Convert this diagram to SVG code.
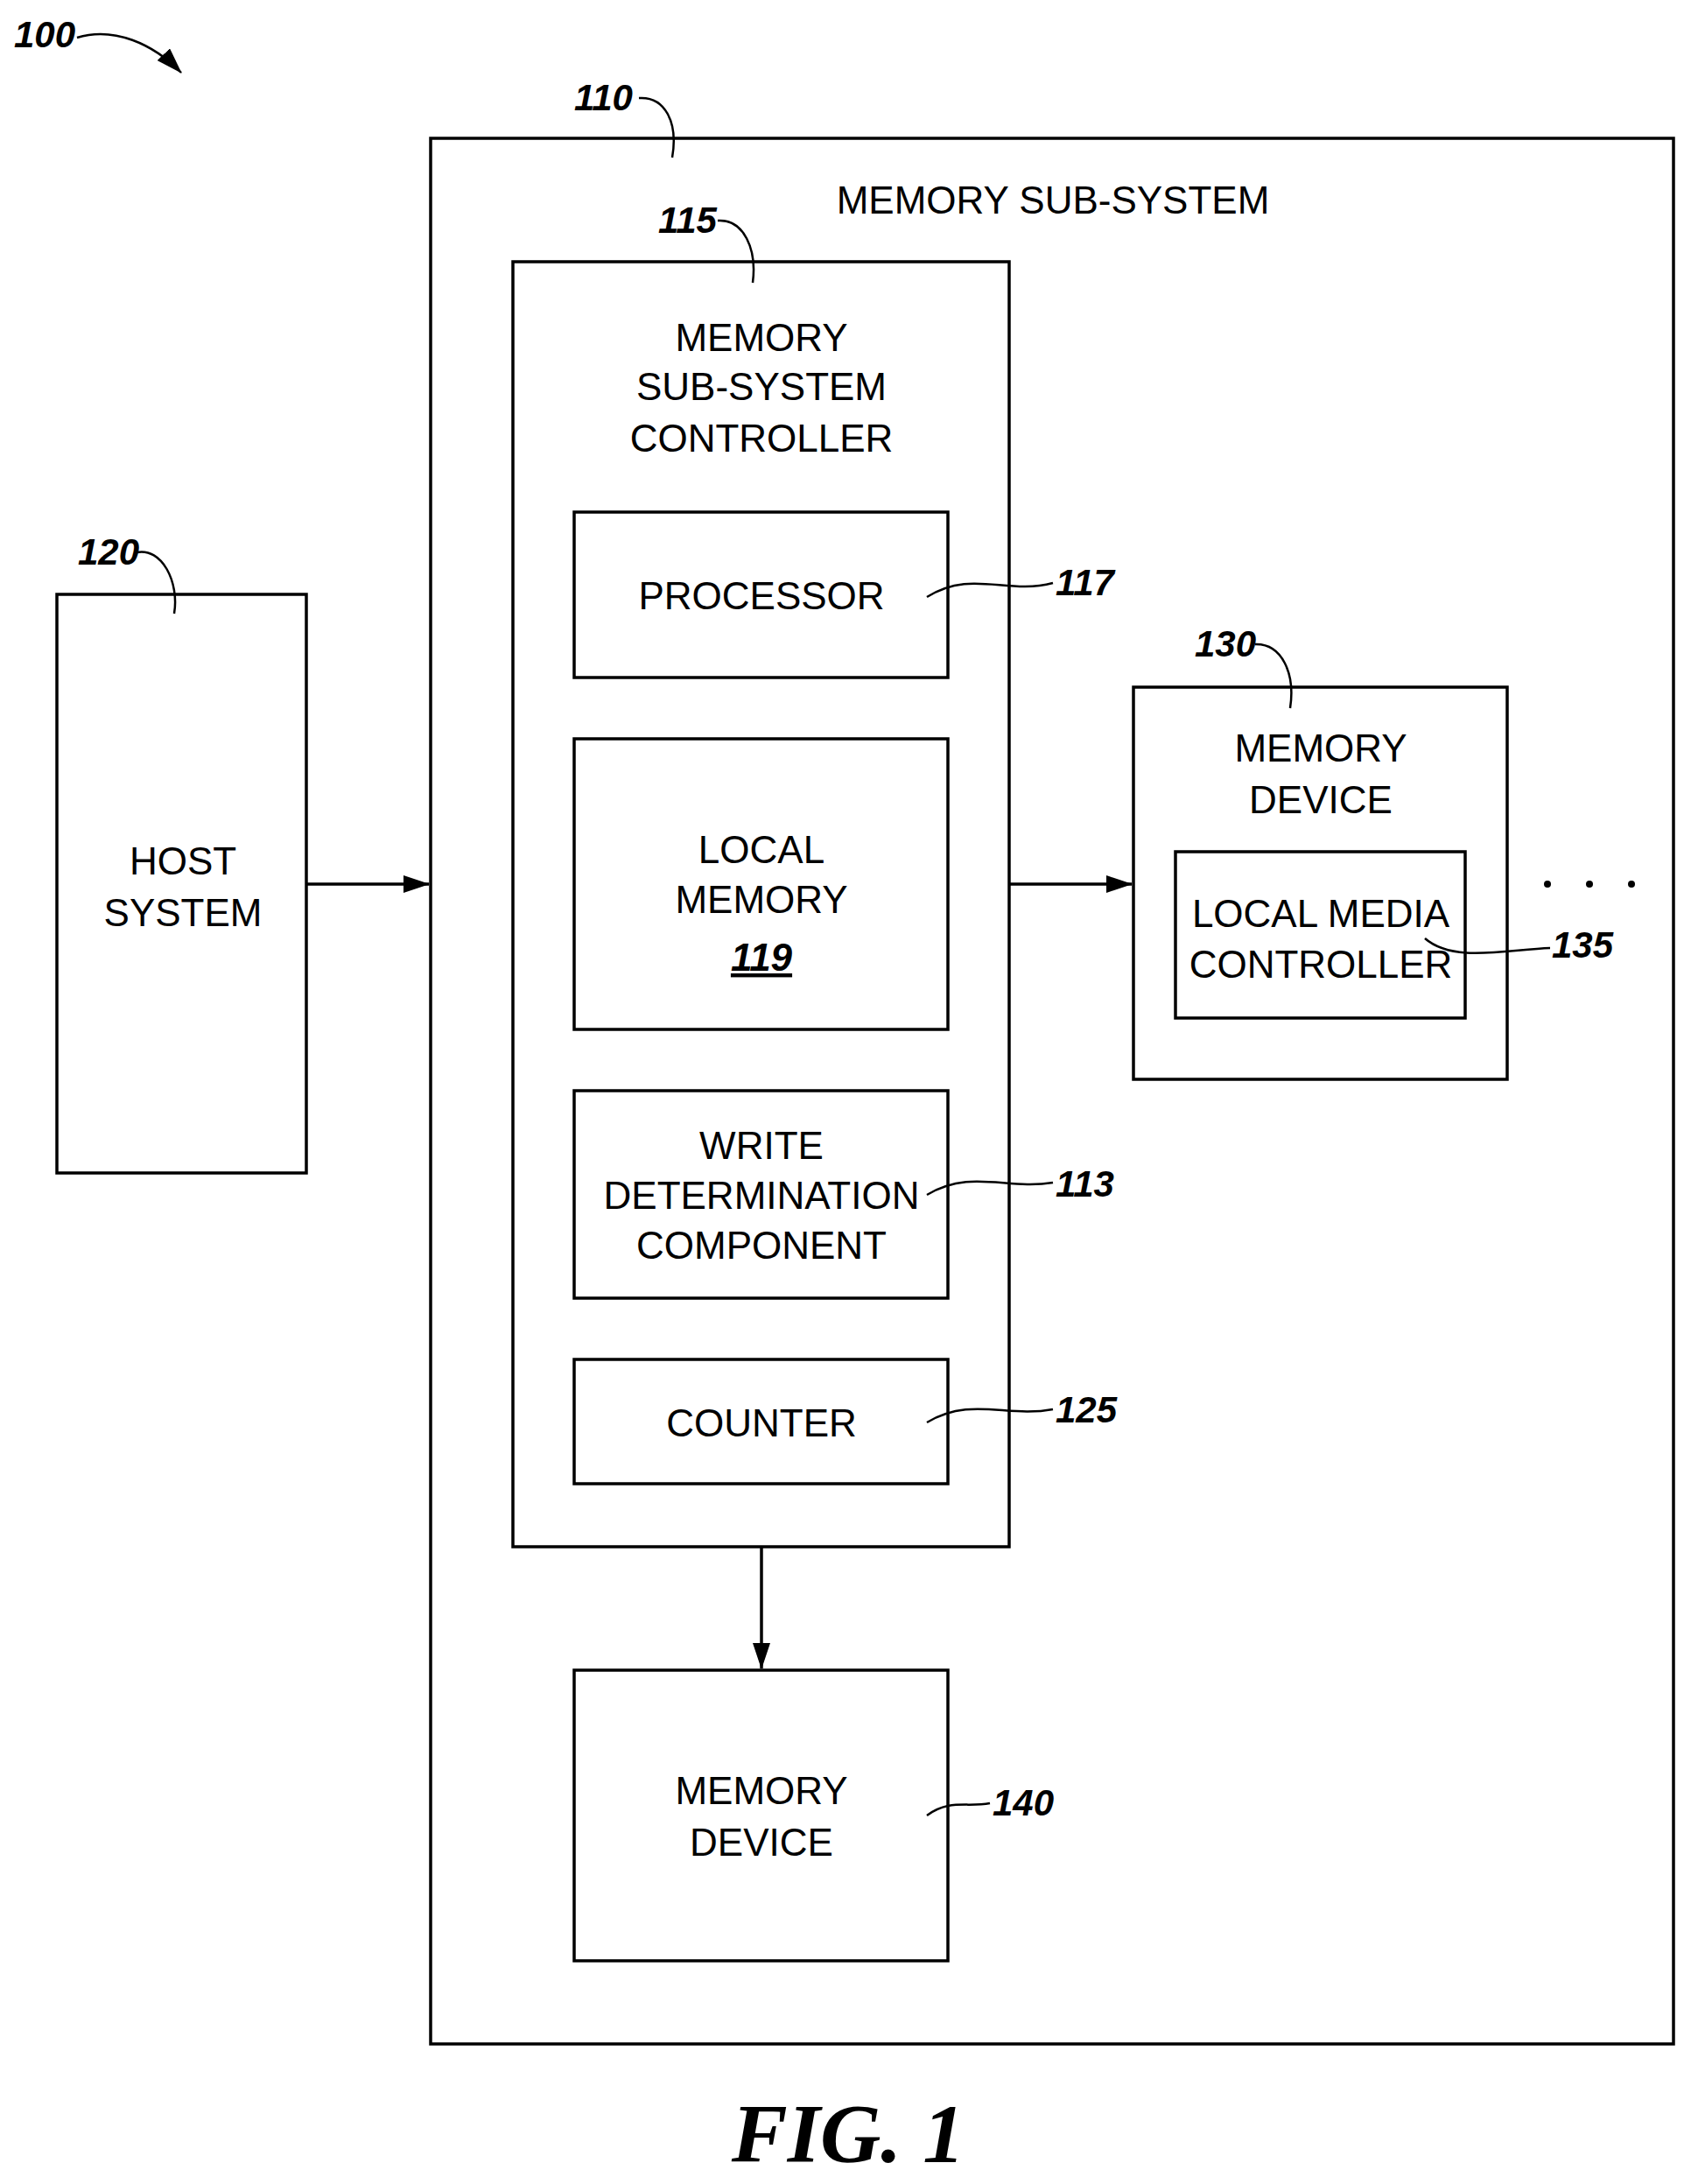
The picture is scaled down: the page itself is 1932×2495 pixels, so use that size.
<svg xmlns="http://www.w3.org/2000/svg" width="1932" height="2495" viewBox="0 0 1932 2495">
<style>
.b{fill:none;stroke:#000;stroke-width:3.5}
.l{fill:none;stroke:#000;stroke-width:2.5}
.t{font-family:"Liberation Sans",Arial,sans-serif;font-size:44px;text-anchor:middle;fill:#000}
.r{font-family:"Liberation Sans",Arial,sans-serif;font-size:42px;font-style:italic;font-weight:bold;fill:#000}
</style>
<defs>
<marker id="a" markerWidth="10" markerHeight="8" refX="9" refY="4" orient="auto" markerUnits="userSpaceOnUse" viewBox="0 0 10 8"><path d="M0,0L10,4L0,8z"/></marker>
<marker id="A" markerWidth="30" markerHeight="20" refX="29" refY="10" orient="auto" markerUnits="userSpaceOnUse" viewBox="0 0 30 20"><path d="M0,0L30,10L0,20z"/></marker>
</defs>
<g id="n110"><rect class="b" x="492" y="158" width="1420" height="2177"/><text class="t" x="1203" y="244">MEMORY SUB-SYSTEM</text></g>
<g id="n115"><rect class="b" x="586" y="299" width="567" height="1468"/><text class="t" x="870" y="401">MEMORY</text><text class="t" x="870" y="457">SUB-SYSTEM</text><text class="t" x="870" y="516">CONTROLLER</text></g>
<g id="n117"><rect class="b" x="656" y="585" width="427" height="189"/><text class="t" x="870" y="696">PROCESSOR</text></g>
<g id="n119"><rect class="b" x="656" y="844" width="427" height="332"/><text class="t" x="870" y="986">LOCAL</text><text class="t" x="870" y="1043">MEMORY</text><text class="t" x="870" y="1109" font-weight="bold" font-style="italic" text-decoration="underline">119</text></g>
<g id="n113"><rect class="b" x="656" y="1246" width="427" height="237"/><text class="t" x="870" y="1324">WRITE</text><text class="t" x="870" y="1381">DETERMINATION</text><text class="t" x="870" y="1438">COMPONENT</text></g>
<g id="n125"><rect class="b" x="656" y="1553" width="427" height="142"/><text class="t" x="870" y="1641">COUNTER</text></g>
<g id="n140"><rect class="b" x="656" y="1908" width="427" height="332"/><text class="t" x="870" y="2061">MEMORY</text><text class="t" x="870" y="2120">DEVICE</text></g>
<g id="n120"><rect class="b" x="65" y="679" width="285" height="661"/><text class="t" x="209" y="999">HOST</text><text class="t" x="209" y="1058">SYSTEM</text></g>
<g id="n130"><rect class="b" x="1295" y="785" width="427" height="448"/><text class="t" x="1509" y="870">MEMORY</text><text class="t" x="1509" y="929">DEVICE</text></g>
<g id="n135"><rect class="b" x="1343" y="973" width="331" height="190"/><text class="t" x="1509" y="1059">LOCAL MEDIA</text><text class="t" x="1509" y="1117">CONTROLLER</text></g>
<g id="connectors">
<line class="b" x1="350" y1="1010" x2="490" y2="1010" marker-end="url(#A)"/>
<line class="b" x1="1153" y1="1010" x2="1293" y2="1010" marker-end="url(#A)"/>
<line class="b" x1="870" y1="1767" x2="870" y2="1906" marker-end="url(#A)"/>
<path class="l" d="M88,43 C130,30 175,50 207,83" marker-end="url(#A)"/>
<path class="l" d="M730,112 C760,110 775,140 768,180"/>
<path class="l" d="M820,252 C850,250 865,285 860,323"/>
<path class="l" d="M156,631 C185,625 205,665 199,701"/>
<path class="l" d="M1434,736 C1465,735 1480,770 1474,809"/>
<path class="l" d="M1059,682 C1110,650 1150,680 1203,666"/>
<path class="l" d="M1059,1365 C1110,1335 1150,1360 1203,1351"/>
<path class="l" d="M1059,1625 C1110,1595 1150,1620 1203,1610"/>
<path class="l" d="M1628,1072 C1660,1100 1720,1085 1771,1083"/>
<path class="l" d="M1059,2074 C1085,2055 1105,2065 1131,2060"/>
</g>
<g id="dots"><circle cx="1768" cy="1010" r="4"/><circle cx="1816" cy="1010" r="4"/><circle cx="1864" cy="1010" r="4"/></g>
<g id="refs">
<text class="r" x="16" y="54">100</text>
<text class="r" x="656" y="126">110</text>
<text class="r" x="752" y="266">115</text>
<text class="r" x="89" y="645">120</text>
<text class="r" x="1365" y="750">130</text>
<text class="r" x="1206" y="680">117</text>
<text class="r" x="1206" y="1367">113</text>
<text class="r" x="1206" y="1625">125</text>
<text class="r" x="1773" y="1094">135</text>
<text class="r" x="1134" y="2074">140</text>
</g>
<text x="969" y="2470" font-family="'Liberation Serif','Times New Roman',serif" font-size="96" font-style="italic" font-weight="bold" text-anchor="middle">FIG. 1</text>
</svg>
